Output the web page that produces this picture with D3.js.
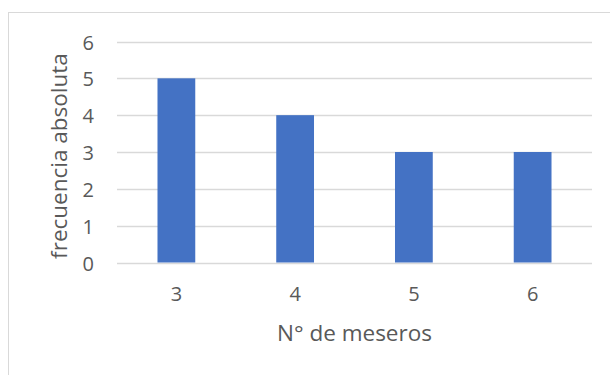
<!DOCTYPE html>
<html>
<head>
<meta charset="utf-8">
<script src="https://cdn.jsdelivr.net/npm/d3@7"></script>
<style>
  html, body { margin: 0; padding: 0; background: #ffffff; }
  svg { display: block; }
  text { font-family: "Open Sans", "Noto Sans", sans-serif; fill: #595959; }
</style>
</head>
<body>
<svg id="chart" width="610" height="375"></svg>
<script>
// Frequency of number of waiters
const categories = ["3", "4", "5", "6"];
const frecuencia = [5, 4, 3, 3];
const yTicks = [0, 1, 2, 3, 4, 5, 6];
const xTitle = "N° de meseros";
const yTitle = "frecuencia absoluta";

const svg = d3.select("#chart");
const W = 610, H = 375;

// chart frame (only top and left edges fall inside the view)
svg.append("rect")
  .attr("x", 8.5).attr("y", 12.5)
  .attr("width", W + 20).attr("height", H + 20)
  .attr("fill", "#ffffff")
  .attr("stroke", "#d9d9d9")
  .attr("stroke-width", 1);

const plot = { left: 117, right: 592, top: 41.5, bottom: 262.5 };

const x = d3.scaleBand()
  .domain(categories)
  .range([plot.left, plot.right])
  .paddingInner(0.682)
  .paddingOuter(0.341);

const y = d3.scaleLinear()
  .domain([0, 6])
  .range([plot.bottom, plot.top]);

// horizontal gridlines
svg.append("g")
  .selectAll("line")
  .data(yTicks)
  .join("line")
  .attr("x1", plot.left).attr("x2", plot.right)
  .attr("y1", d => Math.round(y(d)) + 0.5)
  .attr("y2", d => Math.round(y(d)) + 0.5)
  .attr("stroke", "#d9d9d9")
  .attr("stroke-width", 1.3);

// bars
svg.append("g")
  .selectAll("rect")
  .data(categories.map((c, i) => ({ c, v: frecuencia[i] })))
  .join("rect")
  .attr("x", d => x(d.c))
  .attr("width", x.bandwidth())
  .attr("y", d => y(d.v))
  .attr("height", d => y(0) - y(d.v))
  .attr("fill", "#4472c4");

const tickFont = 20;

// y axis labels
const yAxis = d3.axisLeft(y).tickValues(yTicks).tickSize(0).tickPadding(0).tickFormat(d3.format("d"));
const gy = svg.append("g")
  .attr("transform", `translate(94,0)`)
  .call(yAxis);
gy.select(".domain").remove();
gy.selectAll("text")
  .attr("dy", null)
  .attr("dominant-baseline", "central")
  .attr("font-size", tickFont)
  .attr("fill", "#595959")
  .style("font-family", '"Open Sans", "Noto Sans", sans-serif');

// x axis labels
const xAxis = d3.axisBottom(x).tickSize(0).tickPadding(0);
const gx = svg.append("g")
  .attr("transform", `translate(0,${plot.bottom})`)
  .call(xAxis);
gx.select(".domain").remove();
gx.selectAll("text")
  .attr("dy", null)
  .attr("y", 31)
  .attr("dominant-baseline", "central")
  .attr("font-size", tickFont)
  .attr("fill", "#595959")
  .style("font-family", '"Open Sans", "Noto Sans", sans-serif');

// axis titles
svg.append("text")
  .attr("x", (plot.left + plot.right) / 2)
  .attr("y", 332)
  .attr("text-anchor", "middle")
  .attr("dominant-baseline", "central")
  .attr("font-size", 22.5)
  .text(xTitle);

svg.append("text")
  .attr("transform", `translate(58,156) rotate(-90)`)
  .attr("text-anchor", "middle")
  .attr("dominant-baseline", "central")
  .attr("font-size", 22.5)
  .text(yTitle);
</script>
</body>
</html>
